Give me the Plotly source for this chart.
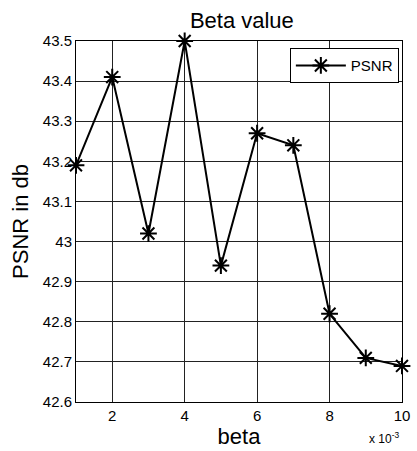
import plotly.graph_objects as go

beta = [1, 2, 3, 4, 5, 6, 7, 8, 9, 10]  # x 10^-3
psnr = [43.19, 43.41, 43.02, 43.50, 42.94, 43.27, 43.24, 42.82, 42.71, 42.69]
xticks = [2, 4, 6, 8, 10]
yticks = [42.6, 42.7, 42.8, 42.9, 43.0, 43.1, 43.2, 43.3, 43.4, 43.5]
ytext = ["42.6", "42.7", "42.8", "42.9", "43", "43.1", "43.2", "43.3", "43.4", "43.5"]

fig = go.Figure()
fig.add_trace(go.Scatter(
    x=beta, y=psnr, mode="lines+markers", name="PSNR",
    line=dict(color="black", width=2),
    marker=dict(symbol="asterisk-open", size=14, color="black",
                line=dict(color="black", width=2)),
    cliponaxis=False,
))

font = "Liberation Sans, Arial, sans-serif"
fig.update_layout(
    width=417, height=451,
    margin=dict(l=76, r=7, t=41, b=49),
    paper_bgcolor="white", plot_bgcolor="white",
    font=dict(family=font, color="black", size=14),
    title=dict(text="Beta value", x=0.58, xanchor="center", y=0.955, yanchor="middle",
               font=dict(size=22, family=font, color="black")),
    showlegend=True,
    legend=dict(x=0.656, y=0.98, xanchor="left", yanchor="top",
                bordercolor="black", borderwidth=1, bgcolor="white",
                font=dict(size=15, family=font), tracegroupgap=0,
                itemwidth=50),
    xaxis=dict(range=[1, 10], tickvals=xticks, showgrid=True, gridcolor="#222",
               gridwidth=1, showline=True, linecolor="black", linewidth=1,
               mirror=True, ticks="", zeroline=False, ticklabeloverflow="allow",
               title=dict(text="beta", font=dict(size=22, family=font), standoff=2),
               tickfont=dict(size=15)),
    yaxis=dict(range=[42.6, 43.5], tickvals=yticks, ticktext=ytext, showgrid=True,
               gridcolor="#222", gridwidth=1, showline=True, linecolor="black",
               linewidth=1, mirror=True, ticks="", zeroline=False,
               title=dict(text="PSNR in db", font=dict(size=22, family=font), standoff=8),
               tickfont=dict(size=15)),
)
fig.add_annotation(text="x 10<sup>-3</sup>", xref="paper", yref="paper",
                   x=0.946, y=-0.128, xanchor="center", yanchor="bottom",
                   showarrow=False, font=dict(size=12, family=font))
fig.write_html("out.html")
